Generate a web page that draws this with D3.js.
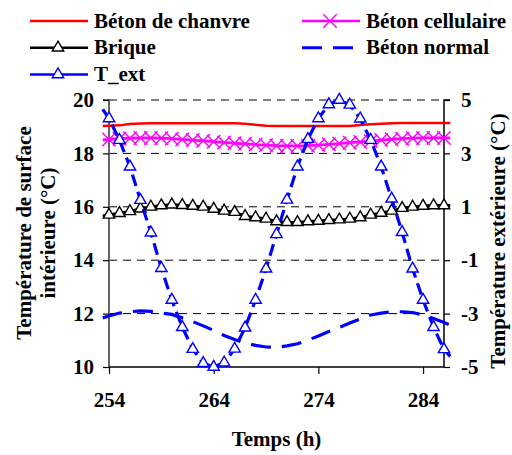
<!DOCTYPE html>
<html>
<head>
<meta charset="utf-8">
<script src="https://cdn.jsdelivr.net/npm/d3@7"></script>
<style>
  body { margin: 0; background: #fff; }
</style>
</head>
<body>
<div id="chart"></div>
<script>
// hours (line extends a bit past both axes, markers only on 254..286)
const hours = [253.4, 254, 255, 256, 257, 258, 259, 260, 261, 262, 263, 264, 265, 266, 267, 268, 269, 270,
  271, 272, 273, 274, 275, 276, 277, 278, 279, 280, 281, 282, 283, 284, 285, 286, 286.6];

const chanvre = [19.03, 19.04, 19.05, 19.1, 19.12, 19.13, 19.13, 19.13, 19.13, 19.13, 19.13, 19.13, 19.13, 19.13,
  19.11, 19.07, 19.04, 19.03, 19.03, 19.03, 19.03, 19.03, 19.03, 19.03, 19.03, 19.06, 19.09, 19.11, 19.13,
  19.14, 19.14, 19.14, 19.14, 19.14, 19.14];

const cellulaire = [18.51, 18.52, 18.55, 18.57, 18.58, 18.58, 18.57, 18.55, 18.52, 18.5, 18.47, 18.44, 18.41,
  18.38, 18.36, 18.33, 18.31, 18.29, 18.28, 18.28, 18.29, 18.31, 18.34, 18.37, 18.4, 18.43, 18.46, 18.5,
  18.53, 18.55, 18.57, 18.58, 18.58, 18.58, 18.58];

const brique = [15.66, 15.7, 15.76, 15.83, 15.93, 16.0, 16.05, 16.08, 16.06, 16.03, 16.0, 15.92, 15.85, 15.8,
  15.65, 15.6, 15.55, 15.45, 15.42, 15.42, 15.45, 15.47, 15.5, 15.52, 15.55, 15.6, 15.7, 15.77, 15.85,
  15.95, 16.0, 16.03, 16.05, 16.05, 16.05];

const betonNormal = [11.84, 11.91, 12.02, 12.07, 12.1, 12.08, 12.02, 11.97, 11.84, 11.7, 11.54, 11.37, 11.18,
  11.03, 10.9, 10.81, 10.75, 10.73, 10.79, 10.87, 11.01, 11.16, 11.33, 11.48, 11.65, 11.8, 11.95, 12.02,
  12.07, 12.07, 12.04, 11.95, 11.82, 11.67, 11.57];

// outdoor temperature, right axis
const tExt = [4.65, 4.31, 3.5, 2.5, 1.25, 0.03, -1.3, -2.49, -3.51, -4.33, -4.86, -5.0, -4.84, -4.32, -3.53,
  -2.49, -1.32, -0.03, 1.26, 2.5, 3.53, 4.31, 4.83, 5.0, 4.82, 4.3, 3.5, 2.5, 1.3, 0.05, -1.32, -2.49,
  -3.51, -4.34, -4.6];

const xTicks = [254, 264, 274, 284];
const leftTicks = [10, 12, 14, 16, 18, 20];
const rightTicks = [-5, -3, -1, 1, 3, 5];

const FONT = '"Liberation Serif", "Times New Roman", serif';
const width = 512;
const height = 455;
const margin = { top: 100, right: 68, bottom: 88, left: 109 };

const svg = d3.select('#chart').append('svg')
  .attr('width', width)
  .attr('height', height)
  .style('font-family', FONT);

const x = d3.scaleLinear().domain([254, 286]).range([margin.left, width - margin.right]);
const yL = d3.scaleLinear().domain([10, 20]).range([height - margin.bottom, margin.top]);
const yR = d3.scaleLinear().domain([-5, 5]).range([height - margin.bottom, margin.top]);

const pts = (vals) => hours.map((t, i) => ({ t, v: vals[i] }));
const onGrid = (d) => d.t >= 254 && d.t <= 286;

// dashed gridlines
svg.append('g')
  .selectAll('line')
  .data(leftTicks.filter((d) => d > 10))
  .join('line')
  .attr('x1', x(254))
  .attr('x2', x(286))
  .attr('y1', (d) => yL(d))
  .attr('y2', (d) => yL(d))
  .attr('stroke', '#000')
  .attr('stroke-width', 1)
  .attr('stroke-dasharray', '8,6');

// axes
const axL = svg.append('g')
  .attr('transform', `translate(${x(254)},0)`)
  .call(d3.axisLeft(yL).tickValues(leftTicks).tickSize(6).tickPadding(9));
const axR = svg.append('g')
  .attr('transform', `translate(${x(286)},0)`)
  .call(d3.axisRight(yR).tickValues(rightTicks).tickSize(6).tickPadding(11)
    .tickFormat((d) => String(d).replace('\u2212', '-')));
const axB = svg.append('g')
  .attr('transform', `translate(0,${yL(10)})`)
  .call(d3.axisBottom(x).tickValues(xTicks).tickSize(7).tickPadding(18));

const label = (sel) => sel
  .style('font-family', FONT)
  .style('font-weight', 'bold')
  .style('font-size', '21px')
  .attr('fill', '#000');

[axL, axR, axB].forEach((ax) => {
  ax.attr('font-family', null).attr('font-size', null);
  ax.select('.domain').attr('stroke', '#000').attr('stroke-width', 1.5);
  ax.selectAll('.tick line').attr('stroke', '#000').attr('stroke-width', 1.2);
  ax.selectAll('.tick text').call(label);
});
axL.select('.domain').attr('stroke', '#666').attr('stroke-width', 2);
axL.select('.domain').attr('d', `M-6,${yL(20)}H0V${yL(10)}`);
axR.select('.domain').attr('d', `M6,${yR(5)}H0V${yR(-5)}`);
axB.select('.domain').attr('d', `M${x(254)},0H${x(286)}`);

const lineL = d3.line().x((d) => x(d.t)).y((d) => yL(d.v));
const lineR = d3.line().x((d) => x(d.t)).y((d) => yR(d.v));

const tri = d3.symbol().type(d3.symbolTriangle).size(56);
const cross = d3.symbol().type(d3.symbolX).size(120);

// Béton de chanvre
svg.append('path').datum(pts(chanvre))
  .attr('d', lineL).attr('fill', 'none').attr('stroke', '#ff0000').attr('stroke-width', 2.5);

// Béton cellulaire
svg.append('path').datum(pts(cellulaire))
  .attr('d', lineL).attr('fill', 'none').attr('stroke', '#ff00ff').attr('stroke-width', 2.8);
svg.append('g').selectAll('path')
  .data(pts(cellulaire).filter(onGrid))
  .join('path')
  .attr('d', cross)
  .attr('transform', (d) => `translate(${x(d.t)},${yL(d.v)})`)
  .attr('fill', 'none').attr('stroke', '#ff00ff').attr('stroke-width', 1.4);

// Brique
svg.append('path').datum(pts(brique))
  .attr('d', lineL).attr('fill', 'none').attr('stroke', '#000').attr('stroke-width', 2.8);
svg.append('g').selectAll('path')
  .data(pts(brique).filter(onGrid))
  .join('path')
  .attr('d', tri)
  .attr('transform', (d) => `translate(${x(d.t)},${yL(d.v)})`)
  .attr('fill', '#fff').attr('stroke', '#000').attr('stroke-width', 1.4);

// Béton normal
svg.append('path').datum(pts(betonNormal))
  .attr('d', lineL).attr('fill', 'none').attr('stroke', '#0000ff').attr('stroke-width', 3.2)
  .attr('stroke-dasharray', '20,11');

// T_ext on the right axis
svg.append('path').datum(pts(tExt))
  .attr('d', lineR).attr('fill', 'none').attr('stroke', '#0000ff').attr('stroke-width', 3.2)
  .attr('stroke-dasharray', '12,6');
svg.append('g').selectAll('path')
  .data(pts(tExt).filter(onGrid))
  .join('path')
  .attr('d', tri)
  .attr('transform', (d) => `translate(${x(d.t)},${yR(d.v)})`)
  .attr('fill', '#fff').attr('stroke', '#0000ff').attr('stroke-width', 1.4);

// legend
const legendItems = [
  { name: 'Béton de chanvre', color: '#ff0000', col: 0, row: 0, marker: null, dash: null },
  { name: 'Béton cellulaire', color: '#ff00ff', col: 1, row: 0, marker: cross, dash: null },
  { name: 'Brique', color: '#000', col: 0, row: 1, marker: tri, dash: null },
  { name: 'Béton normal', color: '#0000ff', col: 1, row: 1, marker: null, dash: '20,11' },
  { name: 'T_ext', color: '#0000ff', col: 0, row: 2, marker: tri, dash: null },
];

const legend = svg.append('g');
legendItems.forEach((it) => {
  const lx = it.col === 0 ? 30 : 302;
  const ly = 21 + it.row * 26.7;
  const g = legend.append('g').attr('transform', `translate(${lx},${ly})`);
  g.append('line').attr('x1', 0).attr('x2', 58).attr('y1', 0).attr('y2', 0)
    .attr('stroke', it.color).attr('stroke-width', it.dash ? 3 : 2.5)
    .attr('stroke-dasharray', it.dash);
  if (it.marker) {
    g.append('path').attr('d', it.marker).attr('transform', 'translate(28,0)')
      .attr('fill', it.marker === tri ? '#fff' : 'none')
      .attr('stroke', it.color).attr('stroke-width', 1.4);
  }
  g.append('text').attr('x', 64).attr('y', 6.5).call(label).text(it.name);
});

// axis titles
svg.append('text')
  .attr('text-anchor', 'middle')
  .attr('x', x(270)).attr('y', 446)
  .call(label)
  .text('Temps (h)');

const ltitle = svg.append('text')
  .attr('text-anchor', 'middle')
  .attr('transform', 'translate(31,233) rotate(-90)')
  .call(label);
ltitle.append('tspan').attr('x', 0).attr('y', 0).text('Température de surface');
ltitle.append('tspan').attr('x', 0).attr('y', 24).text('intérieure (°C)');

svg.append('text')
  .attr('text-anchor', 'middle')
  .attr('transform', 'translate(505,241) rotate(-90)')
  .call(label)
  .text('Température extérieure (°C)');
</script>
</body>
</html>
